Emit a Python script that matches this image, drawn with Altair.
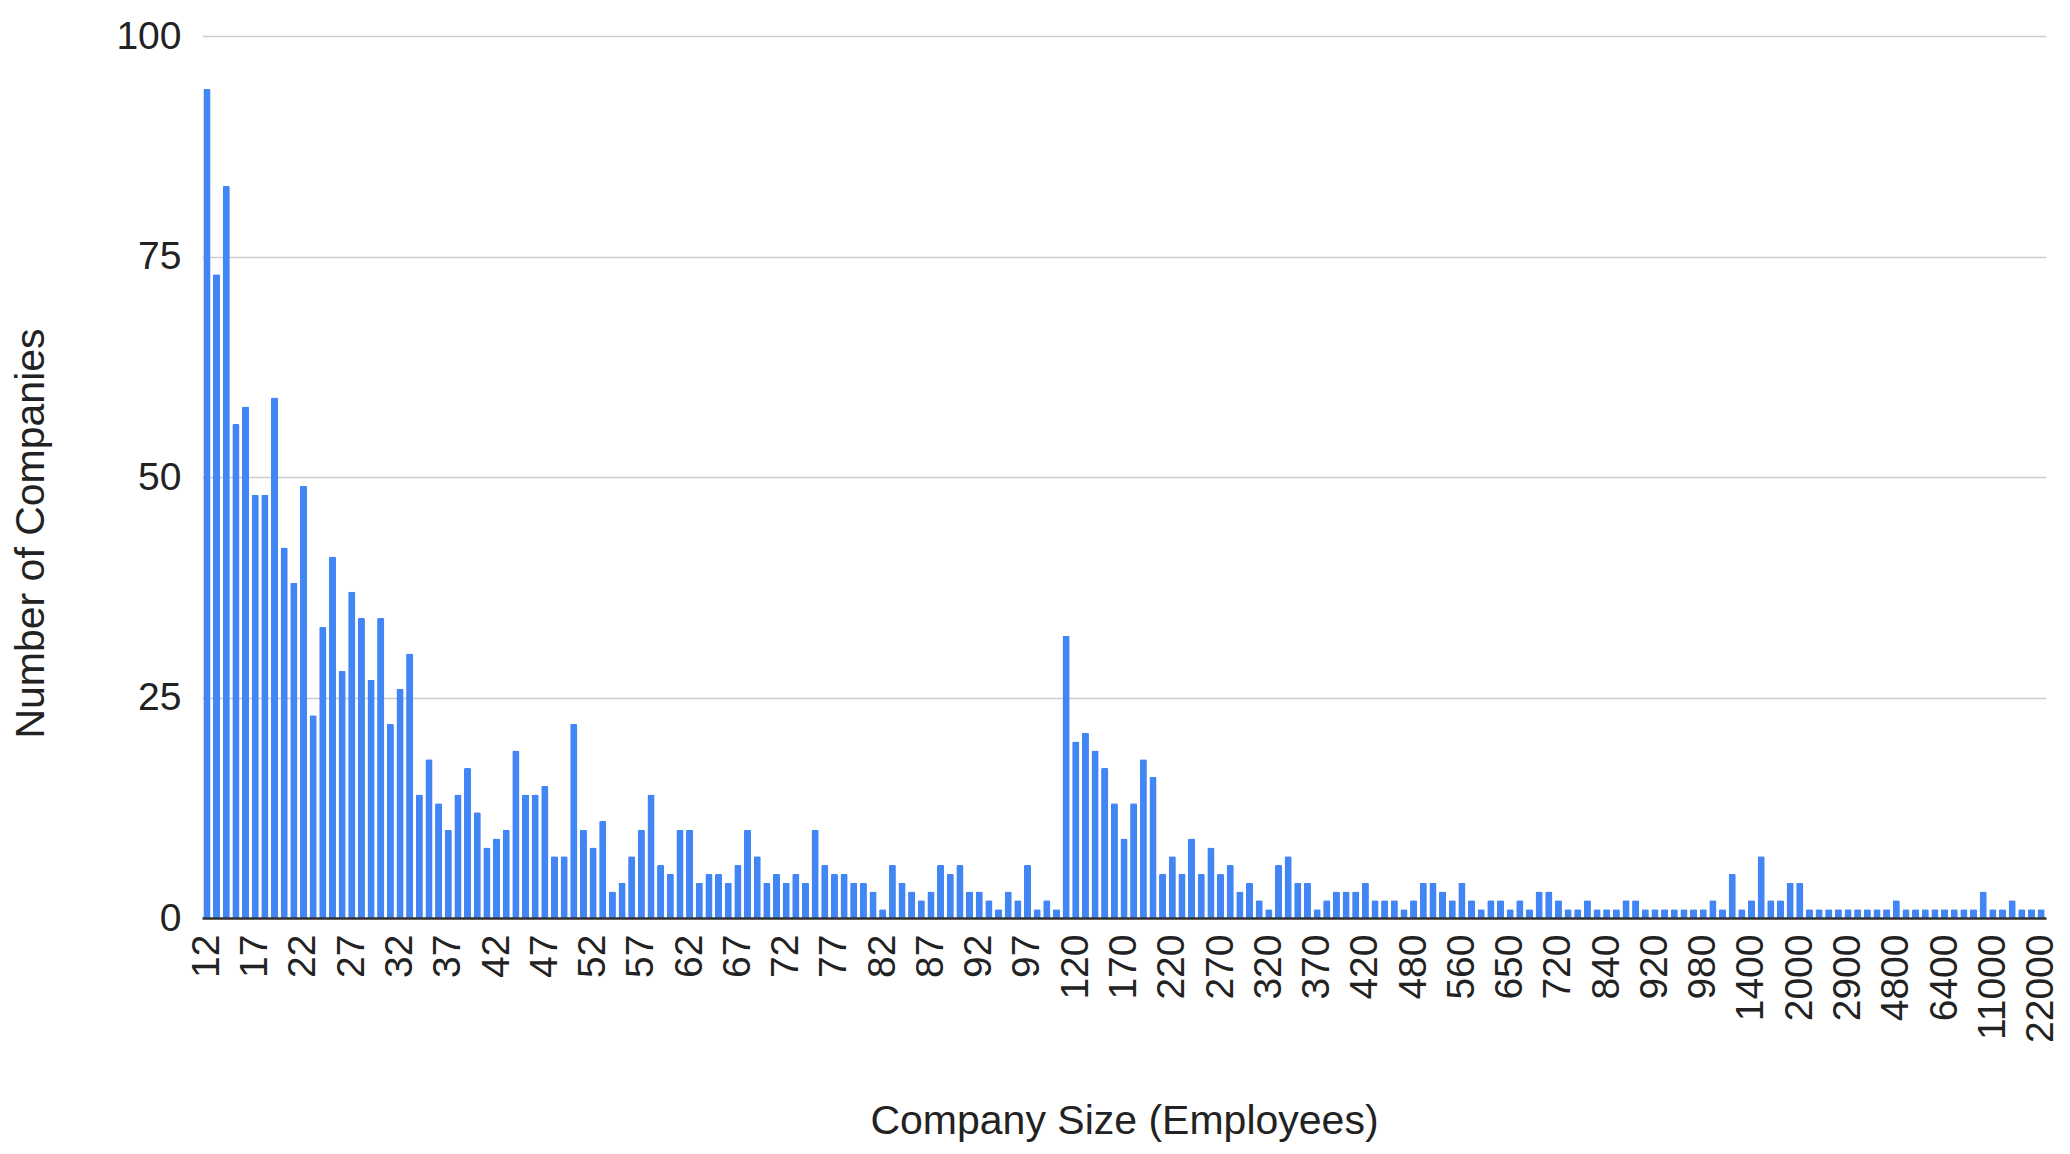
import altair as alt
import pandas as pd

sizes = [
    "12", "13", "14", "15", "16", "17", "18", "19", "20", "21",
    "22", "23", "24", "25", "26", "27", "28", "29", "30", "31",
    "32", "33", "34", "35", "36", "37", "38", "39", "40", "41",
    "42", "43", "44", "45", "46", "47", "48", "49", "50", "51",
    "52", "53", "54", "55", "56", "57", "58", "59", "60", "61",
    "62", "63", "64", "65", "66", "67", "68", "69", "70", "71",
    "72", "73", "74", "75", "76", "77", "78", "79", "80", "81",
    "82", "83", "84", "85", "86", "87", "88", "89", "90", "91",
    "92", "93", "94", "95", "96", "97", "98", "99", "100", "110",
    "120", "130", "140", "150", "160", "170", "180", "190", "200", "210",
    "220", "230", "240", "250", "260", "270", "280", "290", "300", "310",
    "320", "330", "340", "350", "360", "370", "380", "390", "400", "410",
    "420", "430", "440", "450", "460", "480", "500", "510", "520", "540",
    "560", "580", "600", "610", "630", "650", "660", "670", "680", "700",
    "720", "740", "750", "780", "800", "840", "850", "860", "880", "900",
    "920", "930", "940", "950", "960", "980", "1000", "1100", "1200", "1300",
    "1400", "1500", "1600", "1700", "1800", "2000", "2100", "2200", "2400", "2500",
    "2900", "3000", "3300", "3700", "4200", "4800", "5000", "5300", "5600", "6000",
    "6400", "7000", "7500", "8500", "10000", "11000", "12000", "13000", "15000", "17000",
    "22000",
]

counts = [
    94, 73, 83, 56, 58, 48, 48, 59, 42, 38,
    49, 23, 33, 41, 28, 37, 34, 27, 34, 22,
    26, 30, 14, 18, 13, 10, 14, 17, 12, 8,
    9, 10, 19, 14, 14, 15, 7, 7, 22, 10,
    8, 11, 3, 4, 7, 10, 14, 6, 5, 10,
    10, 4, 5, 5, 4, 6, 10, 7, 4, 5,
    4, 5, 4, 10, 6, 5, 5, 4, 4, 3,
    1, 6, 4, 3, 2, 3, 6, 5, 6, 3,
    3, 2, 1, 3, 2, 6, 1, 2, 1, 32,
    20, 21, 19, 17, 13, 9, 13, 18, 16, 5,
    7, 5, 9, 5, 8, 5, 6, 3, 4, 2,
    1, 6, 7, 4, 4, 1, 2, 3, 3, 3,
    4, 2, 2, 2, 1, 2, 4, 4, 3, 2,
    4, 2, 1, 2, 2, 1, 2, 1, 3, 3,
    2, 1, 1, 2, 1, 1, 1, 2, 2, 1,
    1, 1, 1, 1, 1, 1, 2, 1, 5, 1,
    2, 7, 2, 2, 4, 4, 1, 1, 1, 1,
    1, 1, 1, 1, 1, 2, 1, 1, 1, 1,
    1, 1, 1, 1, 3, 1, 1, 2, 1, 1,
    1,
]

tick_labels = [
    "12", "17", "22", "27", "32", "37", "42", "47", "52", "57",
    "62", "67", "72", "77", "82", "87", "92", "97", "120", "170",
    "220", "270", "320", "370", "420", "480", "560", "650", "720", "840",
    "920", "980", "1400", "2000", "2900", "4800", "6400", "11000", "22000",
]

y_ticks = [0, 25, 50, 75, 100]

df = pd.DataFrame({"size": sizes, "count": counts})

chart = (
    alt.Chart(df)
    .mark_bar(color="#4285F4", cornerRadiusTopLeft=1.5, cornerRadiusTopRight=1.5)
    .encode(
        x=alt.X(
            "size:N",
            sort=None,
            scale=alt.Scale(paddingInner=0.26, paddingOuter=0.14),
            axis=alt.Axis(
                values=tick_labels,
                labelAngle=270,
                labelFontSize=39,
                labelPadding=16,
                labelColor="#222222",
                labelOverlap=False,
                ticks=False,
                domain=True,
                domainColor="#333333",
                domainWidth=2.5,
                grid=False,
                zindex=1,
                title="Company Size (Employees)",
                titleFontSize=41,
                titleFontWeight="normal",
                titleColor="#222222",
                titleBaseline="alphabetic",
                titleY=215,
            ),
        ),
        y=alt.Y(
            "count:Q",
            scale=alt.Scale(domain=[0, 100]),
            axis=alt.Axis(
                values=y_ticks,
                domain=False,
                ticks=False,
                grid=True,
                gridColor="#cccccc",
                gridWidth=1.5,
                labelFontSize=39,
                labelPadding=21,
                labelColor="#222222",
                title="Number of Companies",
                titleFontSize=41,
                titleFontWeight="normal",
                titleColor="#222222",
                titleAngle=270,
                titleBaseline="alphabetic",
                titleX=-159,
                titleY=497,
            ),
        ),
    )
    .properties(
        width=1844,
        height=882,
        padding={"left": 194, "top": 28, "right": 14, "bottom": 226},
        autosize=alt.AutoSizeParams(type="none"),
    )
    .configure(font="Liberation Sans")
    .configure_view(stroke=None)
)

chart.save("out.html", embed_options={"renderer": "svg", "actions": False})
